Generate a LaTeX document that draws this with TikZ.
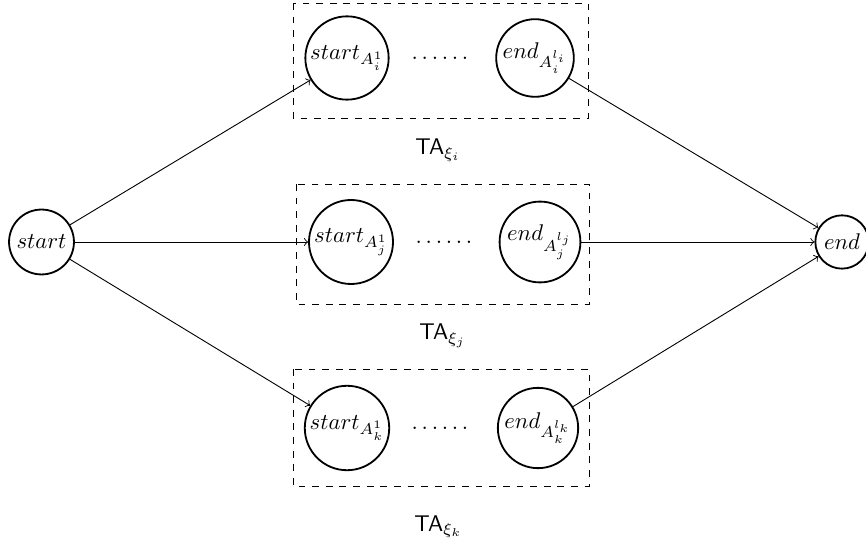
\documentclass[tikz,border=0pt]{standalone}
\begin{document}
\begin{tikzpicture}[x=0.4405pt, y=-0.4405pt,
  state/.style={draw, circle, thick, inner sep=2.3pt},
  sub/.style={state, inner sep=1pt},
  conn/.style={->, thin},
  group/.style={draw, dashed, thin},
  talabel/.style={anchor=base west, inner sep=0pt}]
\useasboundingbox (0,0) rectangle (866,549);
% outer nodes
\node[state] (s) at (41.5,242) {$start$};
\node[state] (e) at (842,242) {$end$};
% top group
\draw[group] (293,3) rectangle (588,118);
\node[sub] (a1) at (347,58) {$start_{A_i^1}$};
\node[sub] (b1) at (535,58) {$end_{A_i^{l_i}}$};
\node (d1) at (440,58) {$\ldots\ldots$};
\node[talabel] (t1) at (415,155) {$\textsf{TA}_{\xi_i}$};
% middle group
\draw[group] (296,184) rectangle (589,304);
\node[sub] (a2) at (351,242) {$start_{A_j^1}$};
\node[sub] (b2) at (540,242) {$end_{A_j^{l_j}}$};
\node (d2) at (444,242) {$\ldots\ldots$};
\node[talabel] (t2) at (419,340) {$\textsf{TA}_{\xi_j}$};
% bottom group
\draw[group] (293,369) rectangle (589,486);
\node[sub] (a3) at (347,428) {$start_{A_k^1}$};
\node[sub] (b3) at (538,428) {$end_{A_k^{l_k}}$};
\node (d3) at (440,428) {$\ldots\ldots$};
\node[talabel] (t3) at (414,531) {$\textsf{TA}_{\xi_k}$};
% connectors
\draw[conn] (s) -- (a1);
\draw[conn] (s) -- (a2);
\draw[conn] (s) -- (a3);
\draw[conn] (b1) -- (e);
\draw[conn] (b2) -- (e);
\draw[conn] (b3) -- (e);
\end{tikzpicture}
\end{document}
